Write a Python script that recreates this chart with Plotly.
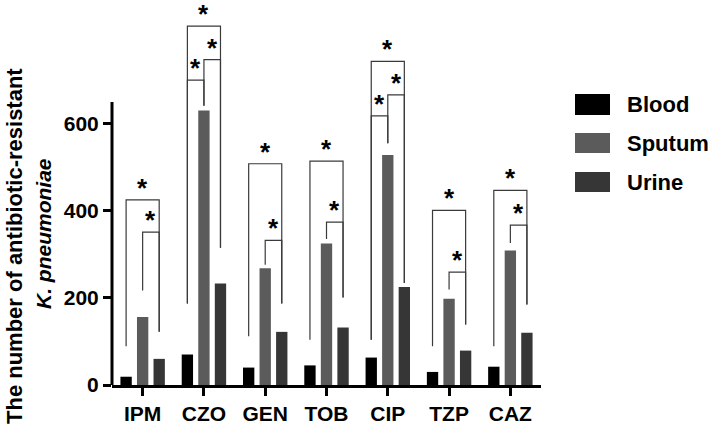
import plotly.graph_objects as go

# ---------------- data ----------------
categories = ["IPM", "CZO", "GEN", "TOB", "CIP", "TZP", "CAZ"]
groups = ["Blood", "Sputum", "Urine"]
blood = [19, 70, 40, 45, 63, 30, 42]
sputum = [156, 630, 268, 325, 528, 198, 309]
urine = [60, 233, 122, 132, 225, 79, 120]
y_ticks = [0, 200, 400, 600]

# significance brackets: (category, left group, right group, top, left-leg bottom, right-leg bottom)
brackets = [
    ("IPM", "Blood", "Urine", 425, 89, 122),
    ("IPM", "Sputum", "Urine", 351, 217, 122),
    ("CZO", "Blood", "Urine", 824, 187, 315),
    ("CZO", "Sputum", "Urine", 747, 641, 315),
    ("CZO", "Blood", "Sputum", 700, 187, 641),
    ("GEN", "Blood", "Urine", 508, 112, 187),
    ("GEN", "Sputum", "Urine", 332, 276, 187),
    ("TOB", "Blood", "Urine", 514, 104, 201),
    ("TOB", "Sputum", "Urine", 374, 335, 201),
    ("CIP", "Blood", "Urine", 743, 104, 234),
    ("CIP", "Sputum", "Urine", 666, 555, 234),
    ("CIP", "Blood", "Sputum", 618, 104, 555),
    ("TZP", "Blood", "Urine", 401, 89, 139),
    ("TZP", "Sputum", "Urine", 259, 219, 139),
    ("CAZ", "Blood", "Urine", 447, 89, 185),
    ("CAZ", "Sputum", "Urine", 367, 326, 185),
]
sig_label = "*"

# ---------------- style ----------------
colors = {"Blood": "#000000", "Sputum": "#5b5b5b", "Urine": "#363636"}
series = {"Blood": blood, "Sputum": sputum, "Urine": urine}
FONT = "Liberation Sans, Arial, sans-serif"
W, H = 714, 433
ML, MR, MT, MB = 112, 173, 0, 48
PW, PH = W - ML - MR, H - MT - MB
STEP = 0.27     # spacing between bar centres in a group (category units)
BW = 0.185      # bar width

def px_x(p):
    return (p - ML) / PW

def px_y(p):
    return (H - MB - p) / PH

def gx(cat, grp):
    return categories.index(cat) + (groups.index(grp) - 1) * STEP

fig = go.Figure()
xs = list(range(len(categories)))
for i, g in enumerate(groups):
    fig.add_trace(go.Bar(
        x=xs, y=series[g], name=g,
        width=BW, offset=(i - 1) * STEP - BW / 2,
        marker=dict(color=colors[g], line=dict(width=0)),
        showlegend=False,
    ))

# brackets
bx, by = [], []
annotations = []
for cat, g1, g2, top, b1, b2 in brackets:
    x1, x2 = gx(cat, g1), gx(cat, g2)
    bx += [x1, x1, x2, x2, None]
    by += [b1, top, top, b2, None]
    annotations.append(dict(
        x=(x1 + x2) / 2, y=top, xref="x", yref="y", text=sig_label,
        showarrow=False, xanchor="center", yanchor="middle", yshift=12,
        font=dict(family=FONT, size=26, color="black", weight="bold"),
    ))
fig.add_trace(go.Scatter(
    x=bx, y=by, mode="lines", line=dict(color="#3a3a3a", width=1.2),
    hoverinfo="skip", showlegend=False,
))

shapes = [
    # y-axis line (only up to 650)
    dict(type="line", xref="paper", yref="y", x0=0, x1=0, y0=0, y1=650,
         line=dict(color="black", width=3)),
]

# custom legend
leg_rows = [(94, 115), (133, 153), (172, 192)]
for g, (t, b) in zip(groups, leg_rows):
    shapes.append(dict(type="rect", xref="paper", yref="paper",
                       x0=px_x(575), x1=px_x(610), y0=px_y(b), y1=px_y(t),
                       fillcolor=colors[g], line=dict(width=0)))
    annotations.append(dict(
        x=px_x(625), y=px_y((t + b) / 2), xref="paper", yref="paper",
        text=g, showarrow=False, xanchor="left", yanchor="middle",
        font=dict(family=FONT, size=22, color="black", weight="bold"),
    ))

# y-axis title (two lines)
annotations.append(dict(
    x=px_x(14), y=px_y(246), xref="paper", yref="paper",
    text="The number of antibiotic-resistant", textangle=-90,
    showarrow=False, xanchor="center", yanchor="middle",
    font=dict(family=FONT, size=22, color="black", weight="bold"),
))
annotations.append(dict(
    x=px_x(43), y=px_y(234), xref="paper", yref="paper",
    text="<i>K. pneumoniae</i>", textangle=-90,
    showarrow=False, xanchor="center", yanchor="middle",
    font=dict(family=FONT, size=21, color="black", weight="bold"),
))

fig.update_layout(
    width=W, height=H,
    margin=dict(l=ML, r=MR, t=MT, b=MB, pad=0),
    paper_bgcolor="white", plot_bgcolor="white",
    barmode="overlay",
    shapes=shapes, annotations=annotations,
    xaxis=dict(
        range=[-0.5, 6.5], tickvals=xs, ticktext=categories,
        showline=True, linecolor="black", linewidth=3,
        ticks="outside", ticklen=8, tickwidth=3, tickcolor="black",
        showgrid=False, zeroline=False,
        tickfont=dict(family=FONT, size=21, color="black", weight="bold"),
    ),
    yaxis=dict(
        range=[0, 884], tickvals=y_ticks,
        showline=False, ticks="outside", ticklen=8, tickwidth=3, tickcolor="black",
        showgrid=False, zeroline=False,
        tickfont=dict(family=FONT, size=21, color="black", weight="bold"),
    ),
)

fig.write_html("out.html", config={"displayModeBar": False},
               post_script="document.body.style.margin='0px';")
